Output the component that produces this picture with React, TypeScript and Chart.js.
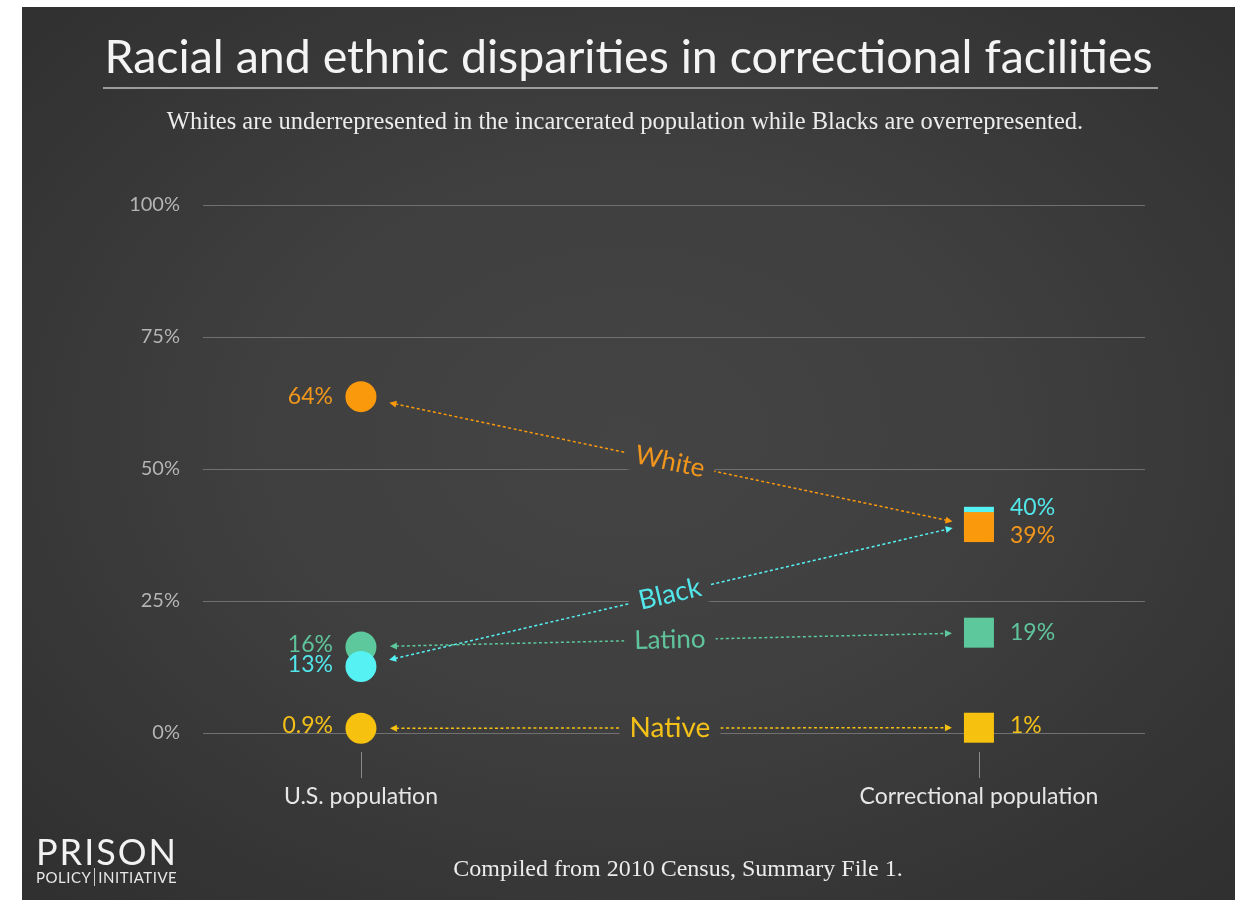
import React, { useEffect, useRef } from "react";
import { Chart, registerables } from "chart.js";

Chart.register(...registerables);

// ---- data ----
const races = ["White", "Black", "Latino", "Native"];
const populations = ["U.S. population", "Correctional population"];
const usShare = [63.7, 12.6, 16.3, 0.9];
const corrShare = [39, 40, 19, 1];
const usLabels = ["64%", "13%", "16%", "0.9%"];
const corrLabels = ["39%", "40%", "19%", "1%"];
const yTicks = [0, 25, 50, 75, 100];

const titleText = "Racial and ethnic disparities in correctional facilities";
const subtitleText =
  "Whites are underrepresented in the incarcerated population while Blacks are overrepresented.";
const footerText = "Compiled from 2010 Census, Summary File 1.";

// ---- styles ----
const pointColors = ["#fb990c", "#55f1f3", "#5cc89b", "#f7c10f"];
const textColors = ["#f0961c", "#52e6ea", "#5fc49c", "#f2c018"];
const labelSizes = [26, 27, 26, 28];
const circleOrder = [1, 0, 2, 1];
const squareOrder = [0, 2, 1, 1];
const corrLabelShift = [8, -14, 0, -2];
const usLabelShift = [0, -2, -2, -3];
const sansFont = "Lato, 'Noto Sans', sans-serif";
const serifFont = "'Liberation Serif', 'DejaVu Serif', serif";

function drawHead(ctx: CanvasRenderingContext2D, x: number, y: number, ux: number, uy: number, color: string) {
  const L = 7;
  const W = 3.5;
  const bx = x - ux * L;
  const by = y - uy * L;
  ctx.fillStyle = color;
  ctx.beginPath();
  ctx.moveTo(x, y);
  ctx.lineTo(bx - uy * W, by + ux * W);
  ctx.lineTo(bx + uy * W, by - ux * W);
  ctx.closePath();
  ctx.fill();
}

const overlayPlugin = {
  id: "overlay",
  afterDatasetsDraw(chart: any) {
    const ctx: CanvasRenderingContext2D = chart.ctx;
    const xs = chart.scales.x;
    const ys = chart.scales.y;
    const x0 = xs.getPixelForValue(0);
    const x1 = xs.getPixelForValue(1);
    ctx.save();

    races.forEach((race, i) => {
      const ax = x0;
      const ay = ys.getPixelForValue(usShare[i]);
      const bx = x1;
      const by = ys.getPixelForValue(corrShare[i]);
      const dx = bx - ax;
      const dy = by - ay;
      const len = Math.hypot(dx, dy);
      const ux = dx / len;
      const uy = dy / len;
      const sx = ax + ux * 29;
      const sy = ay + uy * 29;
      const ex = bx - ux * 27;
      const ey = by - uy * 27;
      const color = pointColors[i];

      ctx.strokeStyle = color;
      ctx.lineWidth = 1.5;
      ctx.setLineDash([3, 2.5]);
      ctx.beginPath();
      ctx.moveTo(sx + ux * 6, sy + uy * 6);
      ctx.lineTo(ex - ux * 6, ey - uy * 6);
      ctx.stroke();
      ctx.setLineDash([]);
      drawHead(ctx, sx, sy, -ux, -uy, color);
      drawHead(ctx, ex, ey, ux, uy, color);

      const mx = (ax + bx) / 2;
      const my = (ay + by) / 2;
      const ang = Math.atan2(dy, dx);
      ctx.font = `${labelSizes[i]}px ${sansFont}`;
      const w = ctx.measureText(race).width;
      ctx.save();
      ctx.translate(mx, my);
      ctx.rotate(ang);
      ctx.globalCompositeOperation = "destination-out";
      ctx.fillStyle = "#000";
      ctx.fillRect(-w / 2 - 10, -16, w + 20, 32);
      ctx.globalCompositeOperation = "source-over";
      ctx.fillStyle = textColors[i];
      ctx.textAlign = "center";
      ctx.textBaseline = "middle";
      ctx.fillText(race, 0, 0);
      ctx.restore();

      // value labels
      ctx.font = `23px ${sansFont}`;
      ctx.fillStyle = textColors[i];
      ctx.textBaseline = "middle";
      ctx.textAlign = "right";
      ctx.fillText(usLabels[i], ax - 28, ay + usLabelShift[i]);
      ctx.textAlign = "left";
      ctx.fillText(corrLabels[i], bx + 31, by + corrLabelShift[i]);
    });

    // category ticks and labels
    const bottom = chart.chartArea.bottom;
    ctx.strokeStyle = "#8a8a8a";
    ctx.lineWidth = 1;
    ctx.font = `23px ${sansFont}`;
    ctx.fillStyle = "#e6e6e6";
    ctx.textAlign = "center";
    ctx.textBaseline = "middle";
    [x0, x1].forEach((px, k) => {
      ctx.beginPath();
      ctx.moveTo(Math.round(px) + 0.5, bottom + 19);
      ctx.lineTo(Math.round(px) + 0.5, bottom + 45);
      ctx.stroke();
      ctx.fillText(populations[k], px, bottom + 64);
    });
    ctx.restore();
  },
};

export default function App() {
  const canvasRef = useRef<HTMLCanvasElement | null>(null);

  useEffect(() => {
    const canvas = canvasRef.current;
    if (!canvas) return;
    const datasets: any[] = [];
    races.forEach((race, i) => {
      datasets.push({
        label: race + " (" + populations[0] + ")",
        data: [{ x: 0, y: usShare[i] }],
        pointStyle: "circle",
        pointRadius: 15.5,
        backgroundColor: pointColors[i],
        borderWidth: 0,
        clip: false,
        order: circleOrder[i],
      });
      datasets.push({
        label: race + " (" + populations[1] + ")",
        data: [{ x: 1, y: corrShare[i] }],
        pointStyle: "rect",
        pointRadius: 21.2,
        backgroundColor: pointColors[i],
        borderWidth: 0,
        clip: false,
        order: squareOrder[i],
      });
    });

    const chart = new Chart(canvas, {
      type: "scatter",
      data: { datasets },
      options: {
        responsive: false,
        animation: false,
        events: [],
        layout: { padding: { left: 0, top: 205, right: 98, bottom: 0 } },
        plugins: {
          legend: { display: false },
          tooltip: { enabled: false },
          title: { display: false },
        },
        scales: {
          x: {
            type: "linear",
            min: -0.2556,
            max: 1.2687,
            grid: { display: false },
            border: { display: false },
            ticks: { display: false },
            afterFit: (s: any) => {
              s.height = 167;
            },
          },
          y: {
            type: "linear",
            min: 0,
            max: 100,
            afterBuildTicks: (s: any) => {
              s.ticks = yTicks.map((v) => ({ value: v }));
            },
            ticks: {
              padding: 23,
              color: "#b4b4b4",
              font: { family: sansFont, size: 20 },
              callback: (v: any) => v + "%",
            },
            grid: { color: "#707070", lineWidth: 1, drawTicks: false },
            border: { display: false },
            afterFit: (s: any) => {
              s.width = 203;
            },
          },
        },
      },
      plugins: [overlayPlugin],
    } as any);
    return () => chart.destroy();
  }, []);

  return (
    <div style={{ position: "absolute", left: 0, top: 0, width: 1243, height: 900, background: "#ffffff", overflow: "hidden" }}>
      <div
        style={{
          position: "absolute",
          left: 22,
          top: 7,
          width: 1213,
          height: 893,
          background: "radial-gradient(ellipse 70% 70% at 50% 48%, #444444 0%, #3f3f3f 45%, #353535 80%, #303030 100%)",
        }}
      />
      <canvas ref={canvasRef} width={1243} height={900} style={{ position: "absolute", left: 0, top: 0, width: 1243, height: 900 }} />
      <div style={{ position: "absolute", left: 0, top: 32, width: 1257, textAlign: "center", font: `46.5px ${sansFont}`, lineHeight: "46.5px", color: "#f4f4f4", whiteSpace: "nowrap" }}>
        {titleText}
      </div>
      <div style={{ position: "absolute", left: 103, top: 87, width: 1055, height: 2, background: "#9c9c9c" }} />
      <div style={{ position: "absolute", left: 0, top: 109, width: 1250, textAlign: "center", font: `24.5px ${serifFont}`, lineHeight: "24.5px", color: "#ececec", whiteSpace: "nowrap" }}>
        {subtitleText}
      </div>
      <div style={{ position: "absolute", left: 0, top: 856, width: 1356, textAlign: "center", font: `24px ${serifFont}`, lineHeight: "24px", color: "#ececec", whiteSpace: "nowrap" }}>
        {footerText}
      </div>
      <div style={{ position: "absolute", left: 36, top: 833, font: `36px ${sansFont}`, lineHeight: "36px", letterSpacing: "2px", color: "#f2f2f2", whiteSpace: "nowrap" }}>
        PRISON
      </div>
      <div style={{ position: "absolute", left: 36, top: 870, font: `15px ${sansFont}`, lineHeight: "15px", letterSpacing: "0.5px", color: "#e8e8e8", whiteSpace: "nowrap" }}>
        POLICY<span style={{ borderLeft: "1px solid #cccccc", marginLeft: 3, paddingLeft: 3 }}>INITIATIVE</span>
      </div>
    </div>
  );
}
